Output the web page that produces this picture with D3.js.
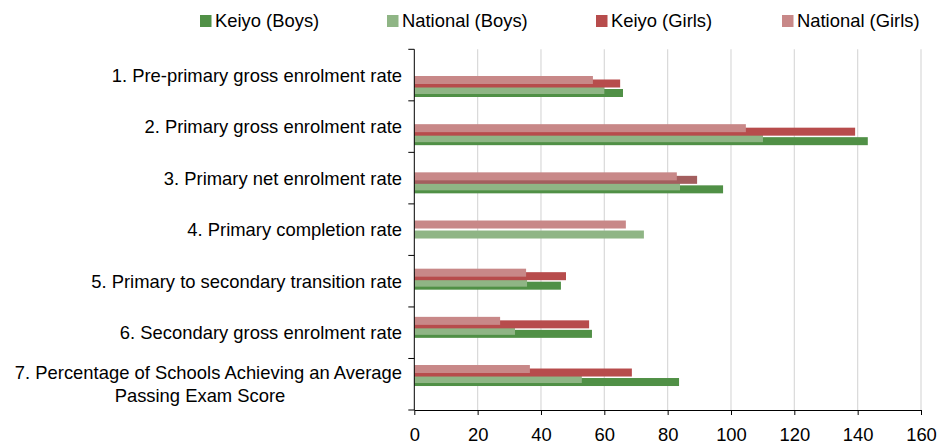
<!DOCTYPE html>
<html>
<head>
<meta charset="utf-8">
<script src="https://cdn.jsdelivr.net/npm/d3@7"></script>
<style>
  html, body { margin: 0; padding: 0; background: #fff; }
  svg { display: block; font-family: "Liberation Sans", Arial, sans-serif; }
</style>
</head>
<body>
<svg id="chart" width="938" height="448"></svg>
<script>
// ---- data ----
const categories = [
  "1. Pre-primary gross enrolment rate",
  "2. Primary gross enrolment rate",
  "3. Primary net enrolment rate",
  "4. Primary completion rate",
  "5. Primary to secondary transition rate",
  "6. Secondary gross enrolment rate",
  "7. Percentage of Schools Achieving an Average Passing Exam Score"
];
const seriesNames = ["Keiyo (Boys)", "National (Boys)", "Keiyo (Girls)", "National (Girls)"];
const keiyoBoys     = [65.9, 143.2, 97.5, null, 46.3, 56.1, 83.6];
const nationalBoys  = [60.0, 110.1, 83.9, 72.5, 35.6, 31.8, 52.9];
const keiyoGirls    = [65.0, 139.2, 89.3, null, 47.9, 55.2, 68.7];
const nationalGirls = [56.4, 104.7, 82.9, 66.8, 35.3, 27.1, 36.5];
const xTicks = [0, 20, 40, 60, 80, 100, 120, 140, 160];

// ---- styles / layout ----
const colors = ["#509046", "#8fb585", "#b74c4c", "#c88888"];
const fontSize = 18.4;
const svg = d3.select("#chart");

const x = d3.scaleLinear().domain([0, 160]).range([414.3, 921]);
const y = d3.scaleBand().domain(categories).range([49.3, 410]).padding(0);
const yBars = d3.scaleBand().domain(categories).range([76, 76 + 48.17 * 7]).padding(0);

// gridlines
svg.append("g").selectAll("line")
  .data(xTicks.filter(t => t > 0))
  .join("line")
  .attr("x1", d => x(d)).attr("x2", d => x(d))
  .attr("y1", 49.3).attr("y2", 410)
  .attr("stroke", "#d9d9d9").attr("stroke-width", 1.2);

// bars: series order drawn bottom-first (Keiyo Boys) so National Girls is on top
const seriesValues = [keiyoBoys, nationalBoys, keiyoGirls, nationalGirls];
const offsets = [13, 10, 3.5, 0];
const barH = 8;
seriesValues.forEach((vals, si) => {
  svg.append("g").selectAll("rect")
    .data(categories.map((c, i) => ({ c, i, v: vals[i] })).filter(d => d.v != null))
    .join("rect")
    .attr("x", x(0))
    .attr("y", d => yBars(d.c) + offsets[si])
    .attr("width", d => x(d.v) - x(0))
    .attr("height", barH)
    .attr("fill", d => (si === 2 && d.i === 2) ? "#a35e5e" : colors[si]);
});

// x axis
const xAxis = svg.append("g")
  .attr("transform", "translate(0,410)")
  .call(d3.axisBottom(x).tickValues(xTicks).tickSize(5).tickPadding(13).tickSizeOuter(0));
xAxis.select(".domain").attr("stroke", "#000");
xAxis.selectAll(".tick line").attr("stroke", "#000");
xAxis.selectAll("text").attr("font-size", fontSize).attr("fill", "#000")
  .attr("font-family", "Liberation Sans, Arial, sans-serif");

// y axis line + ticks at band boundaries
svg.append("line").attr("x1", x(0)).attr("x2", x(0)).attr("y1", 49.3).attr("y2", 410)
  .attr("stroke", "#000");
const bounds = categories.map(c => y(c)).concat([y.range()[1]]);
svg.append("g").selectAll("line").data(bounds).join("line")
  .attr("x1", x(0) - 6).attr("x2", x(0))
  .attr("y1", d => d).attr("y2", d => d)
  .attr("stroke", "#000");

// category labels (wrap the long one)
const labelLines = c => c.startsWith("7.")
  ? ["7. Percentage of Schools Achieving an Average", "Passing Exam Score"]
  : [c];
const lab = svg.append("g").selectAll("text").data(categories).join("text")
  .attr("font-size", fontSize).attr("fill", "#000");
lab.each(function (c) {
  const lines = labelLines(c);
  const cy = y(c) + y.bandwidth() / 2;
  const lh = 23;
  const sel = d3.select(this);
  lines.forEach((ln, k) => {
    const second = lines.length > 1 && k === 1;
    sel.append("tspan")
      .attr("x", second ? 200 : 402)
      .attr("text-anchor", second ? "middle" : "end")
      .attr("y", cy + (k - (lines.length - 1) / 2) * lh)
      .attr("dy", "0.35em")
      .text(ln);
  });
});

// legend
const legendX = [200, 387, 596, 782];
const lg = svg.append("g").selectAll("g").data(seriesNames).join("g")
  .attr("transform", (d, i) => `translate(${legendX[i]},0)`);
lg.append("rect").attr("x", 0).attr("y", 15).attr("width", 11.5).attr("height", 12)
  .attr("fill", (d, i) => colors[i]);
lg.append("text").attr("x", 15).attr("y", 27).attr("font-size", fontSize)
  .attr("fill", "#000").text(d => d);
</script>
</body>
</html>
